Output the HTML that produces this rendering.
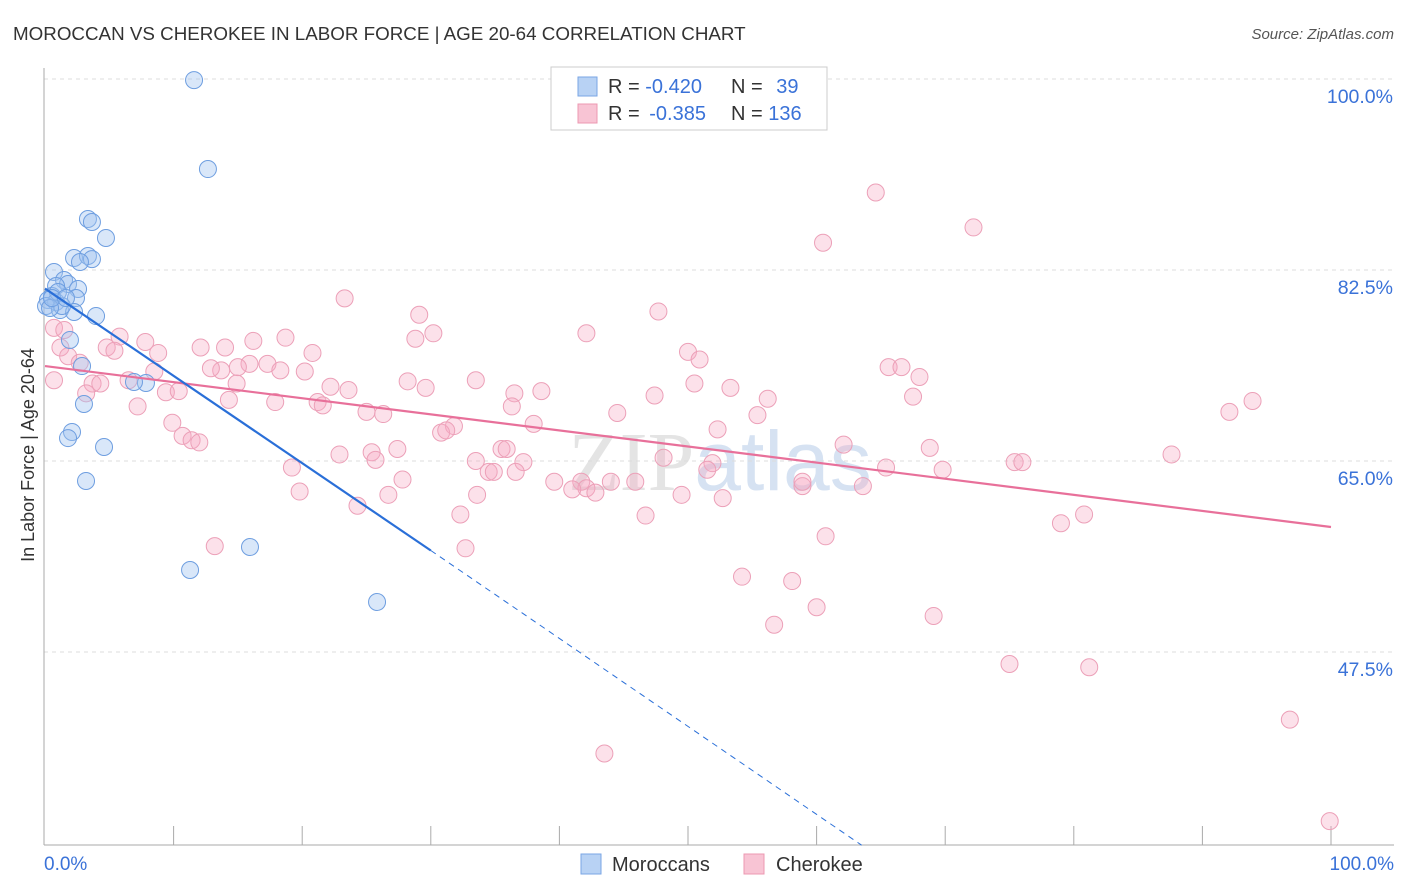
<!DOCTYPE html>
<html><head><meta charset="utf-8"><style>
body{margin:0;background:#fff;font-family:"Liberation Sans",sans-serif}
svg{display:block}
</style></head><body>
<svg id="chart" width="1406" height="892">
<text x="13" y="40" font-size="18.8" fill="#333">MOROCCAN VS CHEROKEE IN LABOR FORCE | AGE 20-64 CORRELATION CHART</text>
<text x="1394" y="39" font-size="15" fill="#555" font-style="italic" text-anchor="end">Source: ZipAtlas.com</text>
<text x="720" y="490" font-size="84" fill="#e4e4e4" text-anchor="middle" font-family="Liberation Serif">ZIP<tspan fill="#d6e2f2" font-family="Liberation Sans">atlas</tspan></text>
<g id="grid"></g>
<g id="axes"></g>
<g id="points"></g>
<g id="lines"></g>
<text transform="translate(34,455) rotate(-90)" font-size="18" fill="#333" text-anchor="middle">In Labor Force | Age 20-64</text>
<text x="44" y="870" font-size="19" fill="#3a72d8">0.0%</text>
<text x="1394" y="870" font-size="19" fill="#3a72d8" text-anchor="end">100.0%</text>
<g>
<rect x="551" y="67" width="276" height="63" fill="#fff" stroke="#ccc"/>
<rect x="578" y="77" width="19" height="19" fill="#b8d2f4" stroke="#7aa6e4"/>
<rect x="578" y="104" width="19" height="19" fill="#f8c4d4" stroke="#ec98b2"/>
<text x="608" y="93" font-size="20" fill="#333">R = <tspan fill="#3a72d8">-0.420</tspan></text>
<text x="731" y="93" font-size="20" fill="#333">N = <tspan fill="#3a72d8" dx="8">39</tspan></text>
<text x="608" y="120" font-size="20" fill="#333">R = <tspan fill="#3a72d8" dx="4">-0.385</tspan></text>
<text x="731" y="120" font-size="20" fill="#333">N = <tspan fill="#3a72d8">136</tspan></text>
</g>
<g>
<rect x="581" y="854" width="20" height="20" fill="#b8d2f4" stroke="#7aa6e4"/>
<text x="612" y="871" font-size="20" fill="#333">Moroccans</text>
<rect x="744" y="854" width="20" height="20" fill="#f8c4d4" stroke="#ec98b2"/>
<text x="776" y="871" font-size="20" fill="#333">Cherokee</text>
</g>
</svg>
<script>
const yTicks=[100,82.5,65,47.5];
const yTickLabels=["100.0%","82.5%","65.0%","47.5%"];
const xTicks=[10,20,30,40,50,60,70,80,90,100];
const moroccanX=[11.59,12.67,3.34,3.65,4.74,2.26,3.34,3.65,2.72,0.7,1.48,1.79,0.86,2.57,0.54,0.23,0.86,2.41,0.08,1.17,2.26,3.97,1.94,2.88,7.85,6.92,3.03,2.1,1.79,4.59,3.19,15.94,11.28,25.82,1.32,0.39,1.01,0.54,1.63];
const moroccanY=[99.9,91.75,87.17,86.9,85.43,83.6,83.78,83.5,83.23,82.32,81.58,81.22,81.03,80.76,80.12,79.75,79.57,79.93,79.2,78.83,78.65,78.28,76.09,73.7,72.15,72.24,70.22,67.66,67.1,66.28,63.17,57.12,55.01,52.08,79.2,79.02,80.48,79.93,79.93];
const cherokeeX=[44.7,53.6,64.6,72.2,60.5,23.3,47.7,29.1,0.7,42.1,30.2,28.8,5.8,18.7,16.2,7.8,1.2,12.1,14.0,4.8,5.4,20.8,8.8,50.0,1.8,50.9,2.7,15.9,17.3,13.7,18.3,20.2,12.9,8.5,65.6,66.6,68.0,3.7,4.3,14.9,6.5,28.2,33.5,50.5,22.2,53.3,29.6,23.6,36.5,38.6,47.4,9.4,10.4,3.2,56.2,67.5,14.3,17.9,21.2,7.2,36.3,21.6,25.0,26.3,44.5,55.4,92.1,93.9,9.9,31.8,38.0,30.8,52.3,31.2,10.7,11.4,12.0,62.1,68.8,27.4,22.9,25.4,35.5,35.9,48.1,25.7,33.5,37.2,75.4,76.0,87.6,51.9,34.5,34.9,36.6,51.5,65.4,69.8,19.2,27.8,39.6,41.7,44.0,42.1,45.9,41.0,58.9,63.6,19.8,33.6,42.8,49.5,26.7,52.7,24.3,32.3,46.7,79.0,80.8,60.7,13.2,32.7,54.2,58.1,60.0,56.7,69.1,75.0,81.2,96.8,43.5,99.9,58.9,0.7,1.5,15.0];
const cherokeeY=[99.9,99.9,89.6,86.4,85.0,79.9,78.7,78.4,77.2,76.7,76.7,76.2,76.4,76.3,76.0,75.9,75.4,75.4,75.4,75.4,75.1,74.9,74.9,75.0,74.6,74.3,74.0,73.9,73.9,73.3,73.3,73.2,73.5,73.2,73.6,73.6,72.7,72.1,72.1,72.1,72.4,72.3,72.4,72.1,71.8,71.7,71.7,71.5,71.2,71.4,71.0,71.3,71.4,71.2,70.7,70.9,70.6,70.4,70.4,70.0,70.0,70.1,69.5,69.3,69.4,69.2,69.5,70.5,68.5,68.2,68.4,67.6,67.9,67.8,67.3,66.9,66.7,66.5,66.2,66.1,65.6,65.8,66.1,66.1,65.3,65.1,65.0,64.9,64.9,64.9,65.6,64.8,64.0,64.0,64.0,64.2,64.4,64.2,64.4,63.3,63.1,63.1,63.1,62.5,63.1,62.4,62.7,62.7,62.2,61.9,62.1,61.9,61.9,61.6,60.9,60.1,60.0,59.3,60.1,58.1,57.2,57.0,54.4,54.0,51.6,50.0,50.8,46.4,46.1,41.3,38.2,32.0,63.1,72.4,77.0,73.6];
const moroccanTrend=[[0,80.8],[30,56.8],[63.5,29.8]];
const cherokeeTrend=[[0,73.7],[100,58.95]];
const NS="http://www.w3.org/2000/svg";
const xs=v=>45+v*12.86;
const ys=v=>79+(100-v)*10.914;
function mk(tag,attrs,parent){const e=document.createElementNS(NS,tag);for(const k in attrs)e.setAttribute(k,attrs[k]);parent.appendChild(e);return e;}
const grid=document.getElementById('grid'),axes=document.getElementById('axes'),pts=document.getElementById('points'),lines=document.getElementById('lines');
yTicks.forEach((t,i)=>{
 const l=mk('line',{x1:44,x2:1394,y1:ys(t),y2:ys(t),stroke:'#dcdcdc','stroke-dasharray':'4,4'},grid);
 
 
 const tx=mk('text',{x:1393,y:ys(t)+24,'font-size':19.5,fill:'#3a72d8','text-anchor':'end'},grid);
 tx.textContent=yTickLabels[i];
 
 
});
const ax=mk('line',{x1:44,x2:44,y1:68,y2:845,stroke:'#aaa'},axes);


const bx=mk('line',{x1:44,x2:1394,y1:845,y2:845,stroke:'#aaa'},axes);


xTicks.forEach(t=>{
 const l=mk('line',{x1:xs(t),x2:xs(t),y1:826,y2:845,stroke:'#aaa'},axes);
 
 
});
cherokeeX.forEach((x,i)=>{
 const c=mk('circle',{cx:xs(x),cy:ys(cherokeeY[i]),r:8.5,fill:'rgba(245,170,195,0.35)',stroke:'#eca0b8','stroke-width':1},pts);
 
 
});
moroccanX.forEach((x,i)=>{
 const c=mk('circle',{cx:xs(x),cy:ys(moroccanY[i]),r:8.5,fill:'rgba(160,195,240,0.4)',stroke:'#6e9ee0','stroke-width':1},pts);
 
 
});
const pl=mk('line',{x1:xs(cherokeeTrend[0][0]),y1:ys(cherokeeTrend[0][1]),x2:xs(cherokeeTrend[1][0]),y2:ys(cherokeeTrend[1][1]),stroke:'#e8709a','stroke-width':2.2},lines);


const bl=mk('line',{x1:xs(moroccanTrend[0][0]),y1:ys(moroccanTrend[0][1]),x2:xs(moroccanTrend[1][0]),y2:ys(moroccanTrend[1][1]),stroke:'#2a6fd8','stroke-width':2.2},lines);


const bd=mk('line',{x1:xs(moroccanTrend[1][0]),y1:ys(moroccanTrend[1][1]),x2:xs(moroccanTrend[2][0]),y2:ys(moroccanTrend[2][1]),stroke:'#2a6fd8','stroke-width':1,'stroke-dasharray':'6,5'},lines);


</script>
</body></html>
